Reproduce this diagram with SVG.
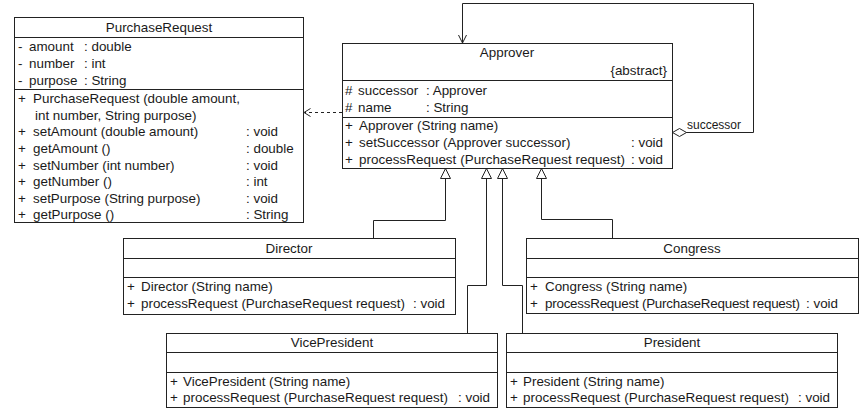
<svg xmlns="http://www.w3.org/2000/svg" width="865" height="412" viewBox="0 0 865 412">
<style>
  .box{fill:#fff;stroke:#222;stroke-width:1}
  .ln{fill:none;stroke:#222;stroke-width:1}
  text{font-family:"Liberation Sans",Arial,sans-serif;font-size:13.4px;fill:#1a1a1a}
  .c{text-anchor:middle}
  .r{text-anchor:end}
  .s{font-size:12px}
</style>
<rect width="865" height="412" fill="#fff"/>
<g id="connectors">
  <polyline class="ln" points="686,132.5 753.5,132.5 753.5,3.5 462.5,3.5 462.5,43"/>
  <polyline class="ln" points="458.5,35 462.5,43 466.5,35"/>
  <polygon points="672.5,132.5 679.5,128.5 686.5,132.5 679.5,136.5" fill="#fff" stroke="#222"/>
  <text x="687" y="129" class="s">successor</text>
  <line x1="342" y1="112.5" x2="305" y2="112.5" class="ln" stroke-dasharray="3,3"/>
  <polyline class="ln" points="310.5,108.5 304,112.5 310.5,116.5"/>
  <polyline class="ln" points="373.5,238 373.5,220.5 445.5,220.5 445.5,178"/>
  <polyline class="ln" points="612.5,239 612.5,219.5 541.5,219.5 541.5,178"/>
  <polyline class="ln" points="467.5,333 467.5,285.5 486.5,285.5 486.5,178"/>
  <polyline class="ln" points="522.5,333 522.5,285.5 502.5,285.5 502.5,178"/>
  <path d="M445.5,168.5 L440.5,178.5 L450.5,178.5 Z" fill="#fff" stroke="#222"/>
  <path d="M486.5,168.5 L481.5,178.5 L491.5,178.5 Z" fill="#fff" stroke="#222"/>
  <path d="M502.5,168.5 L497.5,178.5 L507.5,178.5 Z" fill="#fff" stroke="#222"/>
  <path d="M541.5,168.5 L536.5,178.5 L546.5,178.5 Z" fill="#fff" stroke="#222"/>
</g>
<g id="PurchaseRequest">
  <rect class="box" x="14.5" y="17.5" width="289" height="205"/>
  <line class="ln" x1="14.5" y1="37.5" x2="303.5" y2="37.5"/>
  <line class="ln" x1="14.5" y1="89.5" x2="303.5" y2="89.5"/>
  <text x="159" y="32" class="c">PurchaseRequest</text>
  <text x="18" y="51">-</text><text x="29" y="51">amount</text><text x="84" y="51">: double</text>
  <text x="18" y="68">-</text><text x="29" y="68">number</text><text x="84" y="68">: int</text>
  <text x="18" y="85">-</text><text x="29" y="85">purpose</text><text x="84" y="85">: String</text>
  <text x="18" y="103">+</text><text x="33" y="103">PurchaseRequest (double amount,</text>
  <text x="35" y="120">int number, String purpose)</text>
  <text x="18" y="136">+</text><text x="33" y="136">setAmount (double amount)</text><text x="246" y="136">: void</text>
  <text x="18" y="153">+</text><text x="33" y="153">getAmount ()</text><text x="246" y="153">: double</text>
  <text x="18" y="170">+</text><text x="33" y="170">setNumber (int number)</text><text x="246" y="170">: void</text>
  <text x="18" y="186">+</text><text x="33" y="186">getNumber ()</text><text x="246" y="186">: int</text>
  <text x="18" y="203">+</text><text x="33" y="203">setPurpose (String purpose)</text><text x="246" y="203">: void</text>
  <text x="18" y="219">+</text><text x="33" y="219">getPurpose ()</text><text x="246" y="219">: String</text>
</g>
<g id="Approver">
  <rect class="box" x="342.5" y="43.5" width="330" height="125"/>
  <line class="ln" x1="342.5" y1="80.5" x2="672.5" y2="80.5"/>
  <line class="ln" x1="342.5" y1="117.5" x2="672.5" y2="117.5"/>
  <text x="507" y="57" class="c">Approver</text>
  <text x="667" y="75" class="r">{abstract}</text>
  <text x="345" y="95">#</text><text x="358" y="95">successor</text><text x="426" y="95">: Approver</text>
  <text x="345" y="112">#</text><text x="358" y="112">name</text><text x="426" y="112">: String</text>
  <text x="345" y="130">+</text><text x="359" y="130">Approver (String name)</text>
  <text x="345" y="147">+</text><text x="359" y="147">setSuccessor (Approver successor)</text><text x="631" y="147">: void</text>
  <text x="345" y="164">+</text><text x="359" y="164" textLength="266">processRequest (PurchaseRequest request)</text><text x="631" y="164">: void</text>
</g>
<g id="Director">
  <rect class="box" x="123.5" y="238.5" width="332" height="76"/>
  <line class="ln" x1="123.5" y1="258.5" x2="455.5" y2="258.5"/>
  <line class="ln" x1="123.5" y1="277.5" x2="455.5" y2="277.5"/>
  <text x="289" y="253" class="c">Director</text>
  <text x="127" y="291">+</text><text x="141" y="291">Director (String name)</text>
  <text x="127" y="308">+</text><text x="141" y="308" textLength="264">processRequest (PurchaseRequest request)</text><text x="413" y="308">: void</text>
</g>
<g id="Congress">
  <rect class="box" x="526.5" y="238.5" width="332" height="75"/>
  <line class="ln" x1="526.5" y1="258.5" x2="858.5" y2="258.5"/>
  <line class="ln" x1="526.5" y1="277.5" x2="858.5" y2="277.5"/>
  <text x="692" y="253" class="c">Congress</text>
  <text x="530" y="291">+</text><text x="545" y="291">Congress (String name)</text>
  <text x="530" y="308">+</text><text x="545" y="308" textLength="255">processRequest (PurchaseRequest request)</text><text x="806" y="308">: void</text>
</g>
<g id="VicePresident">
  <rect class="box" x="166.5" y="333.5" width="331" height="74"/>
  <line class="ln" x1="166.5" y1="352.5" x2="497.5" y2="352.5"/>
  <line class="ln" x1="166.5" y1="372.5" x2="497.5" y2="372.5"/>
  <text x="332" y="347" class="c">VicePresident</text>
  <text x="170" y="386">+</text><text x="183" y="386">VicePresident (String name)</text>
  <text x="170" y="402">+</text><text x="183" y="402" textLength="265">processRequest (PurchaseRequest request)</text><text x="458" y="402">: void</text>
</g>
<g id="President">
  <rect class="box" x="506.5" y="333.5" width="331" height="74"/>
  <line class="ln" x1="506.5" y1="352.5" x2="837.5" y2="352.5"/>
  <line class="ln" x1="506.5" y1="372.5" x2="837.5" y2="372.5"/>
  <text x="672" y="347" class="c">President</text>
  <text x="510" y="386">+</text><text x="523" y="386">President (String name)</text>
  <text x="510" y="402">+</text><text x="523" y="402" textLength="266">processRequest (PurchaseRequest request)</text><text x="798" y="402">: void</text>
</g>
</svg>
